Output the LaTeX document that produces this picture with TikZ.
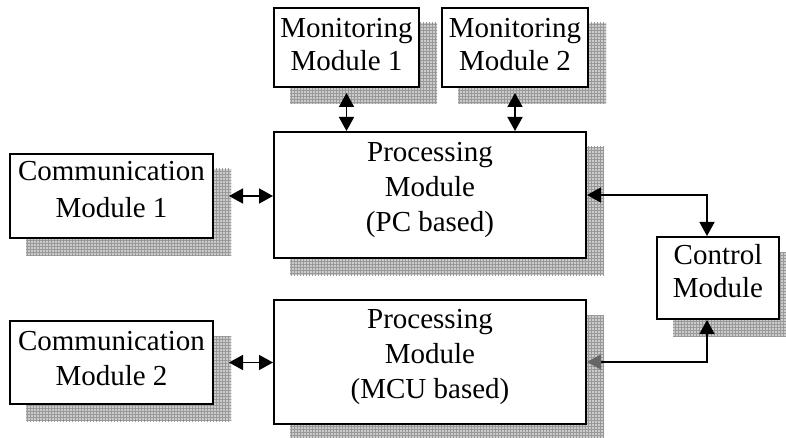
\documentclass[tikz,border=0pt]{standalone}
\usepackage{fontspec}
\setmainfont{Liberation Serif}
\usetikzlibrary{arrows.meta,patterns,backgrounds}

\begin{document}
\begin{tikzpicture}[x=1pt,y=-1pt,
	module/.style={draw,line width=2pt,fill=white,inner sep=0pt},
	modtext/.style={align=center,inner sep=0pt,font=\fontsize{29}{35}\selectfont},
	link/.style={line width=1.6pt,
		{Triangle[length=14pt,width=15pt]}-{Triangle[length=14pt,width=15pt]}}]
			\def\shadowx{17}
			\def\shadowy{16}
			\colorlet{shadowfill}{gray!40}
			\colorlet{shadowgrid}{gray!80}
			
			\useasboundingbox (0,0) rectangle (786,438);
			
			\node[module,minimum width=203pt,minimum height=84pt,
				label={[modtext,name=comA-t,yshift=6pt,font=\fontsize{29}{37}\selectfont]center:Communication\\Module 1}] (comA) at (111.5,196) {};
			\node[module,minimum width=203pt,minimum height=83pt,
				label={[modtext,name=comB-t,yshift=4pt]center:Communication\\Module 2}] (comB) at (111.5,362.5) {};
			\node[module,minimum width=145pt,minimum height=79pt,
				label={[modtext,name=monA-t,yshift=3pt,font=\fontsize{29}{33}\selectfont]center:Monitoring\\Module 1}] (monA) at (346.5,47.5) {};
			\node[module,minimum width=146pt,minimum height=79pt,
				label={[modtext,name=monB-t,yshift=3pt,font=\fontsize{29}{33}\selectfont]center:Monitoring\\Module 2}] (monB) at (515,47.5) {};
			\node[module,minimum width=312pt,minimum height=126pt,
				label={[modtext,name=procA-t,yshift=5pt]center:Processing\\Module\\(PC based)}] (procA) at (430,195) {};
			\node[module,minimum width=312pt,minimum height=124pt,
				label={[modtext,name=procB-t,yshift=5pt]center:Processing\\Module\\(MCU based)}] (procB) at (430,362) {};
			\node[module,minimum width=122pt,minimum height=82pt,
				label={[modtext,name=ctrl-t,yshift=7pt,font=\fontsize{29}{33}\selectfont]center:Control\\Module}] (ctrl) at (718,278) {};
			
			% shadows behind the modules
			\begin{scope}[on background layer]
				\foreach \m in {comA,comB,monA,monB,procA,procB,ctrl}{
					\fill[shadowfill] ([shift={(\shadowx,\shadowy)}]\m.south west) rectangle ([shift={(\shadowx,\shadowy)}]\m.north east);
					\pattern[pattern=grid,pattern color=shadowgrid] ([shift={(\shadowx,\shadowy)}]\m.south west) rectangle ([shift={(\shadowx,\shadowy)}]\m.north east);
				}
			\end{scope}
			
			\draw[link,shorten <=5pt] (monA.south) -- (monA.south |- procA.north);
			\draw[link,shorten <=5pt] (monB.south) -- (monB.south |- procA.north);
			\draw[link,shorten <=15pt] (comA.east) -- (comA.east -| procA.west);
			\draw[link,shorten <=15pt] (comB.east) -- (comB.east -| procB.west);
			
			\draw[link] (procA.east) -| ([xshift=-11pt]ctrl.north);
			\draw[line width=1.6pt,
				{Triangle[length=14pt,width=15pt,color=black!60]}-{Triangle[length=14pt,width=15pt]}]
				(procB.east) -| ([xshift=-11pt]ctrl.south);
		\end{tikzpicture}
\end{document}
